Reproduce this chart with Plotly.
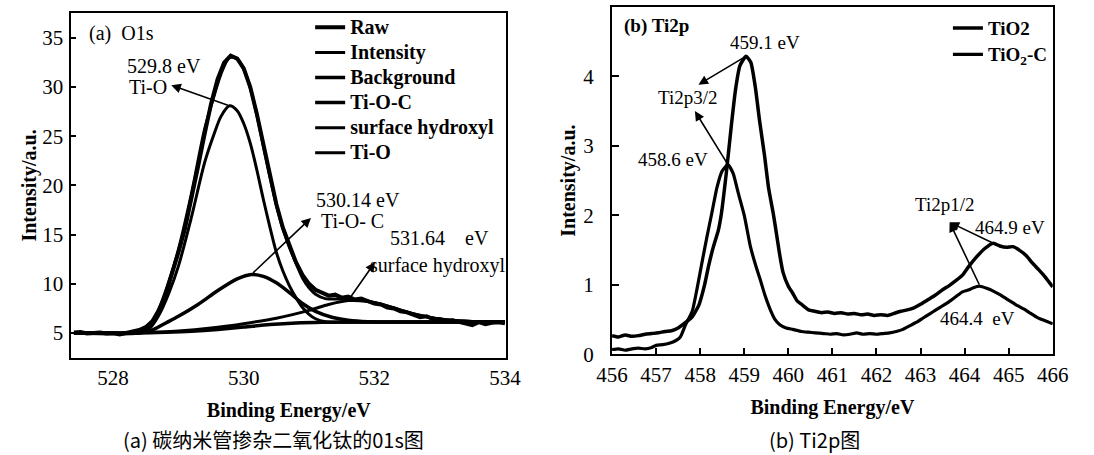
import plotly.graph_objects as go

# ---------------- Panel (a) O1s data ----------------
raw_x = [527.4, 527.5, 527.6, 527.7, 527.8, 527.9, 528.0, 528.1, 528.2, 528.3, 528.4, 528.5, 528.6, 528.7,
         528.8, 528.9, 529.0, 529.1, 529.2, 529.3, 529.4, 529.5, 529.6, 529.7, 529.8, 529.9, 530.0, 530.1,
         530.2, 530.3, 530.4, 530.5, 530.6, 530.7, 530.8, 530.9, 531.0, 531.1, 531.2, 531.3, 531.4, 531.5,
         531.6, 531.7, 531.8, 531.9, 532.0, 532.1, 532.2, 532.3, 532.4, 532.5, 532.6, 532.7, 532.8, 532.9,
         533.0, 533.1, 533.2, 533.3, 533.4, 533.5, 533.6, 533.7, 533.8, 533.9, 534.0]
raw_y = [5.05, 5.1, 4.95, 5.0, 5.05, 4.95, 5.0, 4.85, 5.05, 5.15, 5.3, 5.6, 6.2, 7.3,
         8.8, 10.9, 13.2, 15.6, 18.6, 21.9, 25.2, 28.3, 30.8, 32.5, 33.2, 32.9, 31.9, 30.0,
         27.3, 24.2, 21.0, 18.1, 15.7, 13.8, 12.2, 10.9, 10.0, 9.4, 9.1, 8.8, 8.9, 8.6,
         8.7, 8.4, 8.5, 8.2, 8.0, 7.9, 7.6, 7.5, 7.2, 7.1, 6.9, 6.6, 6.7, 6.4,
         6.4, 6.2, 6.3, 6.1, 6.0, 5.8, 6.1, 5.9, 6.05, 6.1, 6.0]

int_x = [527.4, 528.0, 528.4, 528.55, 528.7, 528.85, 529.0, 529.2, 529.4, 529.55, 529.65, 529.78, 529.9,
         530.0, 530.1, 530.2, 530.3, 530.4, 530.5, 530.6, 530.7, 530.8, 530.9, 531.0, 531.1, 531.25,
         531.5, 531.75, 532.0, 532.2, 532.5, 532.8, 533.1, 533.5, 534.0]
int_y = [5.0, 5.0, 5.02, 5.6, 7.45, 10.2, 13.5, 19.2, 25.7, 29.2, 31.3, 33.0, 32.9,
         31.8, 29.9, 27.2, 24.0, 20.9, 18.0, 15.6, 13.7, 12.1, 10.6, 9.6, 8.95, 8.5,
         8.45, 8.4, 8.1, 7.75, 7.15, 6.65, 6.35, 6.18, 6.13]

bg_x = [527.4, 528.4, 528.8, 529.2, 529.6, 530.0, 530.4, 530.8, 531.2, 532.0, 534.0]
bg_y = [5.0, 5.0, 5.07, 5.18, 5.36, 5.6, 5.86, 6.03, 6.1, 6.12, 6.12]

toc_x = [527.4, 528.4, 528.6, 528.8, 529.0, 529.3, 529.6, 529.9, 530.12, 530.3, 530.5, 530.7, 530.9,
         531.1, 531.35, 531.6, 531.9, 532.5, 534.0]
toc_y = [5.0, 5.0, 5.3, 6.0, 6.7, 7.9, 9.3, 10.5, 10.95, 10.75, 10.1, 9.1, 8.0,
         7.2, 6.6, 6.3, 6.15, 6.12, 6.12]

oh_x = [527.4, 528.5, 529.0, 529.5, 530.0, 530.5, 531.0, 531.3, 531.6, 531.9, 532.2, 532.5, 532.8,
        533.1, 533.5, 534.0]
oh_y = [5.0, 5.05, 5.2, 5.5, 5.95, 6.5, 7.3, 7.9, 8.3, 8.2, 7.75, 7.15, 6.65,
        6.35, 6.18, 6.13]

tio_x = [527.4, 528.4, 528.55, 528.7, 528.85, 529.0, 529.2, 529.4, 529.55, 529.65, 529.78, 529.9, 530.0,
         530.1, 530.2, 530.3, 530.4, 530.5, 530.6, 530.7, 530.8, 530.9, 531.0, 531.1, 531.25, 531.5, 534.0]
tio_y = [5.0, 5.02, 5.4, 6.8, 9.0, 11.8, 16.8, 22.3, 25.3, 27.0, 28.1, 27.6, 26.3,
         24.3, 21.6, 18.6, 15.8, 13.2, 11.3, 9.8, 8.6, 7.6, 6.9, 6.45, 6.15, 6.1, 6.12]

a_names = ["Raw", "Intensity", "Background", "Ti-O-C", "surface hydroxyl", "Ti-O"]
a_xticks = [528, 530, 532, 534]
a_yticks = [5, 10, 15, 20, 25, 30, 35]

# ---------------- Panel (b) Ti2p data ----------------
tio2_x = [456.0, 456.15, 456.3, 456.45, 456.6, 456.75, 456.9, 457.05, 457.2, 457.35, 457.5, 457.67, 457.82,
          457.97, 458.1, 458.19, 458.3, 458.41, 458.48, 458.6, 458.7, 458.8, 458.9, 459.04, 459.15, 459.25,
          459.35, 459.46, 459.55, 459.66, 459.73, 459.8, 459.88, 460.0, 460.1, 460.2, 460.32, 460.46, 460.6,
          460.75, 460.9, 461.05, 461.2, 461.35, 461.5, 461.65, 461.8, 461.95, 462.1, 462.25, 462.4, 462.55,
          462.7, 462.85, 463.0, 463.15, 463.33, 463.5, 463.65, 463.8, 463.95, 464.1, 464.28, 464.45, 464.65,
          464.8, 464.95, 465.1, 465.24, 465.4, 465.53, 465.68, 465.82, 466.0]
tio2_y = [0.27, 0.25, 0.28, 0.26, 0.27, 0.29, 0.3, 0.31, 0.33, 0.34, 0.38, 0.46, 0.54,
          0.71, 1.0, 1.27, 1.55, 1.78, 2.02, 2.65, 3.25, 3.8, 4.15, 4.29, 4.2, 3.85,
          3.35, 2.86, 2.4, 2.02, 1.74, 1.45, 1.18, 0.98, 0.88, 0.77, 0.71, 0.64, 0.62,
          0.6, 0.61, 0.59, 0.6, 0.58, 0.59, 0.57, 0.58, 0.56, 0.57, 0.56, 0.59, 0.62,
          0.64, 0.67, 0.72, 0.78, 0.85, 0.93, 0.99, 1.06, 1.14, 1.27, 1.41, 1.52, 1.6,
          1.56, 1.54, 1.55, 1.5, 1.42, 1.32, 1.22, 1.12, 0.97]

tio2c_x = [456.0, 456.15, 456.3, 456.45, 456.6, 456.75, 456.9, 457.0, 457.15, 457.3, 457.45, 457.55, 457.67,
           457.82, 457.93, 458.04, 458.15, 458.26, 458.38, 458.5, 458.63, 458.75, 458.86, 459.0, 459.14, 459.25,
           459.36, 459.47, 459.58, 459.7, 459.8, 459.95, 460.1, 460.3, 460.45, 460.61, 460.8, 460.95, 461.1,
           461.25, 461.4, 461.55, 461.7, 461.85, 462.0, 462.15, 462.3, 462.45, 462.6, 462.75, 462.9, 463.05,
           463.2, 463.35, 463.5, 463.65, 463.8, 463.95, 464.1, 464.2, 464.35, 464.5, 464.65, 464.8, 464.95,
           465.1, 465.2, 465.35, 465.5, 465.65, 465.8, 466.0]
tio2c_y = [0.07, 0.08, 0.06, 0.08, 0.09, 0.08, 0.1, 0.13, 0.14, 0.16, 0.2, 0.25, 0.43,
           0.62, 0.95, 1.32, 1.68, 2.02, 2.4, 2.64, 2.73, 2.6, 2.33, 2.0, 1.55, 1.3,
           1.08, 0.85, 0.66, 0.5, 0.43, 0.38, 0.36, 0.33, 0.32, 0.31, 0.3, 0.29, 0.3,
           0.28, 0.29, 0.31, 0.29, 0.3, 0.29, 0.3, 0.31, 0.33, 0.36, 0.41, 0.46, 0.52,
           0.58, 0.64, 0.7, 0.76, 0.83, 0.9, 0.93, 0.96, 0.98, 0.95, 0.91, 0.86, 0.8,
           0.74, 0.7, 0.65, 0.59, 0.53, 0.49, 0.44]

b_names = ["TiO2", "TiO<sub>2</sub>-C"]
b_xticks = [456, 457, 458, 459, 460, 461, 462, 463, 464, 465, 466]
b_yticks = [0, 1, 2, 3, 4, 5]

SERIF = "Liberation Serif"
CJK = "Noto Sans CJK SC"
BLACK = "#000000"


def lname(txt, size):
    return "<span style='font-size:%dpx'><b>%s</b></span>" % (size, txt)


fig = go.Figure()

a_series = [
    (raw_x, raw_y, 4.0, "linear"),
    (int_x, int_y, 3.0, "spline"),
    (bg_x, bg_y, 3.5, "spline"),
    (toc_x, toc_y, 3.5, "spline"),
    (oh_x, oh_y, 3.0, "spline"),
    (tio_x, tio_y, 3.0, "spline"),
]
for name, (xs, ys, w, shape) in zip(a_names, a_series):
    fig.add_trace(go.Scatter(x=xs, y=ys, mode="lines", name=lname(name, 20),
                             line=dict(color=BLACK, width=w, shape=shape, smoothing=0.8),
                             xaxis="x", yaxis="y", legend="legend", hoverinfo="skip"))

b_series = [(tio2_x, tio2_y, 3.5), (tio2c_x, tio2c_y, 3.2)]
for name, (xs, ys, w) in zip(b_names, b_series):
    fig.add_trace(go.Scatter(x=xs, y=ys, mode="lines", name=lname(name, 19),
                             line=dict(color=BLACK, width=w, shape="spline", smoothing=0.5),
                             xaxis="x2", yaxis="y2", legend="legend2", hoverinfo="skip"))

axis_common = dict(showline=True, mirror=True, linecolor=BLACK, linewidth=2, showgrid=False,
                   zeroline=False, tickcolor=BLACK, tickwidth=1.5,
                   tickfont=dict(family=SERIF, size=21, color=BLACK))

title_font = dict(family=SERIF, size=20, color=BLACK)

fig.update_layout(
    width=1094, height=455,
    margin=dict(l=0, r=0, t=0, b=0),
    paper_bgcolor="white", plot_bgcolor="white",
    font=dict(family=SERIF, color=BLACK),
    xaxis=dict(domain=[57 / 1094, 505 / 1094], range=[527.36, 534.02], tickvals=a_xticks,
               ticks="", anchor="y",
               title=dict(text="<b>Binding Energy/eV</b>", font=title_font, standoff=14),
               **axis_common),
    yaxis=dict(domain=[1 - 368 / 455, 1 - 13 / 455], range=[2.43, 37.57], tickvals=a_yticks,
               ticks="inside", ticklen=5, anchor="x", ticklabelstandoff=2,
               title=dict(text="<b>Intensity/a.u.</b>", font=title_font, standoff=0),
               **axis_common),
    xaxis2=dict(domain=[614 / 1094, 1068 / 1094], range=[456, 466], tickvals=b_xticks,
                ticks="inside", ticklen=6, anchor="y2",
                title=dict(text="<b>Binding Energy/eV</b>", font=title_font, standoff=14),
                **axis_common),
    yaxis2=dict(domain=[1 - 364 / 455, 1 - 7 / 455], range=[0, 5], tickvals=b_yticks,
                ticks="inside", ticklen=7, anchor="x2", ticklabelstandoff=12,
                title=dict(text="<b>Intensity/a.u.</b>", font=title_font, standoff=2),
                **axis_common),
    legend=dict(x=303 / 1094, y=1 - 10 / 455, xanchor="left", yanchor="top",
                bgcolor="rgba(0,0,0,0)", font=dict(family=SERIF, size=17, color=BLACK),
                tracegroupgap=0),
    legend2=dict(x=960 / 1094, y=1 - 10 / 455, xanchor="left", yanchor="top",
                 bgcolor="rgba(0,0,0,0)", font=dict(family=SERIF, size=18, color=BLACK),
                 tracegroupgap=0),
    showlegend=True,
)

# ---------------- text labels ----------------
a_texts = [
    ("(a)  O1s", 528.13, 35.4),
    ("529.8 eV", 528.78, 32.1),
    ("Ti-O", 528.53, 30.05),
    ("530.14 eV", 531.75, 18.5),
    ("Ti-O- C", 531.67, 16.4),
    ("531.64    eV", 533.0, 14.65),
    ("surface hydroxyl", 532.96, 11.9),
]
for t, x, y in a_texts:
    fig.add_annotation(text=t, x=x, y=y, xref="x", yref="y", showarrow=False,
                       font=dict(family=SERIF, size=20, color=BLACK))

b_texts = [
    ("<b>(b) Ti2p</b>", 457.0, 4.72),
    ("459.1 eV", 459.46, 4.48),
    ("Ti2p3/2", 457.73, 3.69),
    ("458.6 eV", 457.38, 2.81),
    ("Ti2p1/2", 463.55, 2.16),
    ("464.9 eV", 465.02, 1.83),
    ("464.4  eV", 464.3, 0.52),
]
for t, x, y in b_texts:
    fig.add_annotation(text=t, x=x, y=y, xref="x2", yref="y2", showarrow=False,
                       font=dict(family=SERIF, size=19, color=BLACK))

# arrows: (head_x, head_y, tail_x, tail_y, axis suffix)
arrows = [
    (528.89, 30.2, 529.78, 28.1, ""),
    (531.03, 16.7, 530.12, 10.97, ""),
    (532.01, 12.2, 531.6, 8.3, ""),
    (457.96, 3.88, 459.04, 4.29, "2"),
    (457.88, 3.5, 458.63, 2.73, "2"),
    (463.66, 1.9, 464.65, 1.6, "2"),
    (463.66, 1.9, 464.35, 0.98, "2"),
]
for hx, hy, tx, ty, s in arrows:
    fig.add_annotation(text="", x=hx, y=hy, ax=tx, ay=ty, xref="x" + s, yref="y" + s,
                       axref="x" + s, ayref="y" + s, showarrow=True, arrowhead=2,
                       arrowsize=1.2, arrowwidth=1.6, arrowcolor=BLACK)

captions = [
    ("(a) 碳纳米管掺杂二氧化钛的01s图", 265 / 1094),
    ("(b) Ti2p图", 823 / 1094),
]
for t, x in captions:
    fig.add_annotation(text=t, x=x, y=0, xref="paper", yref="paper", showarrow=False,
                       xanchor="center", yanchor="bottom", borderpad=0, yshift=-12,
                       font=dict(family=CJK, size=20, color=BLACK))

fig.write_html("out.html")
